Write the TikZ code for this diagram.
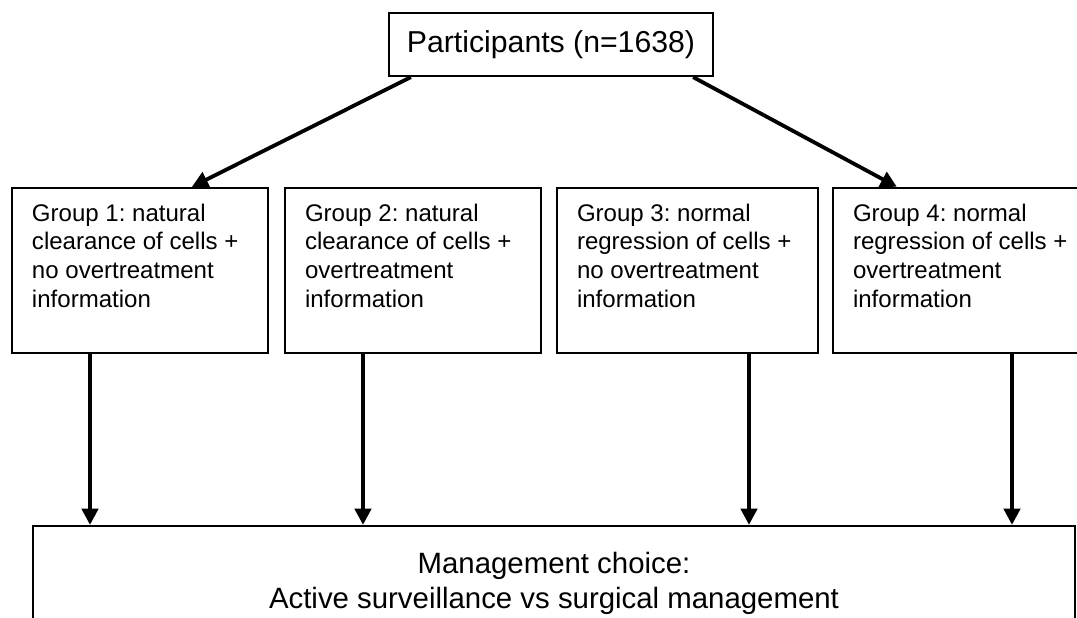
\documentclass[tikz,border=0pt]{standalone}
\usepackage{fontspec}
\setmainfont{Liberation Sans}
\usetikzlibrary{calc,arrows.meta}
\newcommand{\grpbox}[2][5.4cm]{\parbox[c][3.345cm][t]{#1}{\raggedright\frenchspacing #2}}

\begin{document}
\begin{tikzpicture}[
	box/.style={draw, line width=1.6pt, inner sep=0pt, align=center},
	grp/.style={draw, line width=1.6pt, inner xsep=0.5cm, inner ysep=0.39cm, font=\fontsize{17.1}{20.6}\selectfont},
	arr/.style={line width=2.7pt, -{Triangle[length=11.5pt,width=11.5pt]}}]
			%%%%% START %%%%%
			
			\useasboundingbox (0,0) rectangle (26.925,15.45);
			\clip (0,0) rectangle (26.925,15.45);
			
			\node[box, minimum width=8.1cm, minimum height=1.575cm, font=\fontsize{21.5}{25}\selectfont] (part) at (13.775,14.3375) {Participants (n=1638)};
			
			\node[grp] (g1) at (3.5,8.6875) {\grpbox{Group 1: natural\\clearance of cells +\\no overtreatment\\information}};
			\node[grp] (g2) at (10.325,8.6875) {\grpbox{Group 2: natural\\clearance of cells +\\overtreatment\\information}};
			\node[grp] (g3) at (17.1875,8.6875) {\grpbox[5.525cm]{Group 3: normal\\regression of cells +\\no overtreatment\\information}};
			\node[grp] (g4) at (24.025,8.6875) {\grpbox{Group 4: normal\\regression of cells +\\overtreatment\\information}};
			
			\node[box, minimum width=26.05cm, minimum height=2.85cm, font=\fontsize{20.9}{24.8}\selectfont] (mgmt) at (13.85,0.875) {Management choice:\\Active surveillance vs surgical management};
			
			\draw[arr] ($(part.south west)+(0.575,0)$) -- ($(g1.north west)+(4.525,0)$);
			\draw[arr] ($(part.south east)+(-0.525,0)$) -- ($(g4.north west)+(1.625,0)$);
			
			\coordinate (a1) at (2.25,0);
			\coordinate (a2) at (9.075,0);
			\coordinate (a3) at (18.725,0);
			\coordinate (a4) at (25.3,0);
			\draw[arr] (g1.south -| a1) -- (mgmt.north -| a1);
			\draw[arr] (g2.south -| a2) -- (mgmt.north -| a2);
			\draw[arr] (g3.south -| a3) -- (mgmt.north -| a3);
			\draw[arr] (g4.south -| a4) -- (mgmt.north -| a4);
			
			%%%%% END %%%%%
\end{tikzpicture}
\end{document}
